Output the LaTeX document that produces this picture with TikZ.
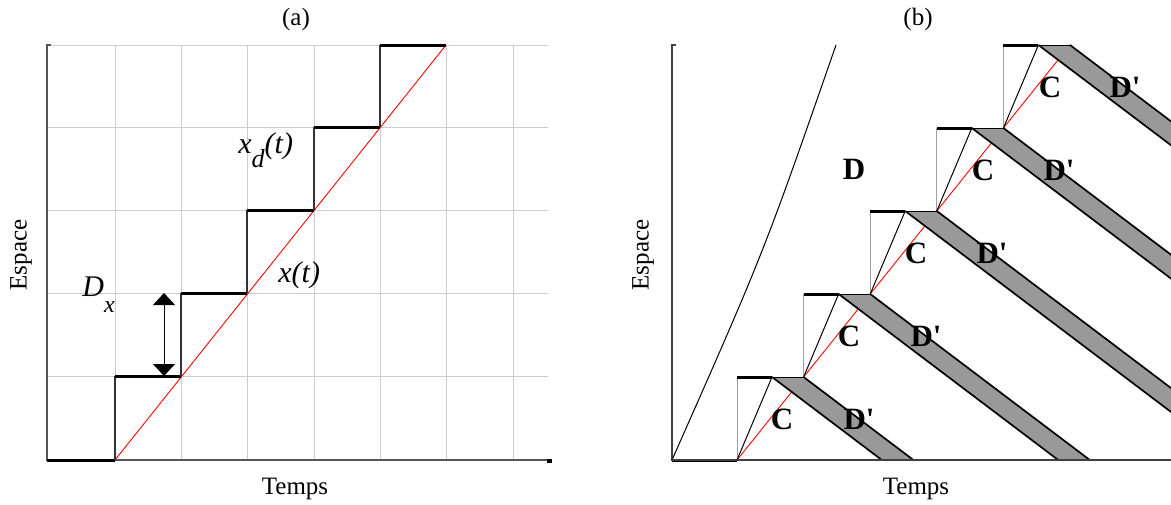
\documentclass[tikz,border=0pt]{standalone}
\usepackage{fontspec}
\setmainfont{Liberation Serif}
\usetikzlibrary{arrows.meta}
\definecolor{bandgray}{RGB}{153,153,153}
\definecolor{gridgray}{RGB}{205,205,205}
\definecolor{axisgray}{RGB}{85,85,85}
\definecolor{risergray}{RGB}{160,160,160}
\begin{document}
\begin{tikzpicture}[x=0.5pt,y=-0.5pt,
  gridline/.style={gridgray,line width=0.5pt},
  axisline/.style={axisgray,line width=0.8pt},
  axisb/.style={black!75,line width=0.6pt},
  tread/.style={black,line width=1.5pt},
  risera/.style={black!80,line width=0.65pt},
  riserb/.style={risergray,line width=0.5pt},
  diagline/.style={black,line width=0.5pt},
  redline/.style={red,line width=0.45pt},
  bandfill/.style={fill=bandgray},
  bandedge/.style={black,line width=0.85pt},
  dxarrow/.style={black,line width=0.5pt,{Triangle[width=11pt,length=6pt]}-{Triangle[width=11pt,length=6pt]}},
  txt/.style={font=\fontsize{12.5}{13}\selectfont,inner sep=0pt},
  labit/.style={font=\fontsize{15}{15}\selectfont\itshape,inner sep=0pt},
  labbf/.style={font=\fontsize{15.5}{15.5}\selectfont\bfseries,inner sep=0pt}]
\useasboundingbox (0,0) rectangle (1171,504);

% ---------------- panel (a) ----------------
\foreach \x in {115,181,247,314,380,446,513} \draw[gridline] (\x,45) -- (\x,460);
\foreach \y in {45,127,210,293,376} \draw[gridline] (47,\y) -- (548,\y);
\draw[axisline] (51,45) -- (47,45) -- (47,460) -- (548,460);
\fill[black] (547,459.3) rectangle (551.5,462.5);

\draw[redline] (115,460) -- (446,45);
\draw[tread] (47,460) -- (115,460);
\foreach \xl/\xr/\yb/\yt in {115/181/460/376,181/247/376/293,247/314/293/210,314/380/210/127,380/446/127/45}{
  \draw[risera] (\xl,\yb) -- (\xl,\yt);
  \draw[tread] (\xl,\yt) -- (\xr,\yt);
}
\coordinate (dxtop) at (164,293);
\coordinate (dxbot) at (164,376);
\draw[dxarrow] (dxtop) -- (dxbot);

\node[labit,anchor=base west] (dx) at (82,296) {D\raisebox{-8pt}{\fontsize{12}{12}\selectfont x}};
\node[labit,anchor=base west] (xd) at (238,153) {x\raisebox{-7pt}{\fontsize{13}{13}\selectfont d}(t)};
\node[labit,anchor=base west] (xt) at (278,282) {x(t)};

\node[txt] (ta) at (296,19) {(a)};
\node[txt] (tempsa) at (295,489) {Temps};
\node[txt,rotate=90] (espa) at (21,255) {Espace};

% ---------------- panel (b) ----------------
\draw[axisb] (676,45) -- (672,45) -- (672,460) -- (1171,460);
\draw[tread] (672,460) -- (737,460);
\draw[diagline] (672,460) .. controls (764,252) .. (836,45);
\draw[redline] (737,460) -- (1070,45);

\begin{scope}
\clip (672,0) rectangle (1171,461);
\foreach \i in {0,...,4}{
  \pgfmathsetmacro\xL{737+66.6*\i}
  \pgfmathsetmacro\yT{377-83*\i}
  \pgfmathsetmacro\ax{\xL+35}
  \pgfmathsetmacro\bx{\xL+66.6}
  \pgfmathsetmacro\dd{(460-\yT)/0.756}
  \fill[bandfill] (\ax,\yT) -- (\bx,\yT) -- (\bx+\dd,460) -- (\ax+\dd,460) -- cycle;
  \draw[bandedge] (\ax,\yT) -- (\ax+\dd,460);
  \draw[bandedge] (\bx,\yT) -- (\bx+\dd,460);
  \draw[black,line width=0.4pt] (\ax,\yT) -- (\bx,\yT);
}
\end{scope}
\draw[axisb] (672,460) -- (1171,460);

\foreach \i in {0,...,4}{
  \pgfmathsetmacro\xL{737+66.6*\i}
  \pgfmathsetmacro\yT{377-83*\i}
  \pgfmathsetmacro\yB{\yT+83}
  \pgfmathsetmacro\ax{\xL+35}
  \draw[riserb] (\xL,\yB) -- (\xL,\yT);
  \draw[diagline] (\xL,\yB) -- (\ax,\yT);
  \draw[tread] (\xL,\yT) -- (\ax,\yT);
}

\node[labbf] (c1) at (782,419) {C};
\node[labbf] (c2) at (849,336) {C};
\node[labbf] (c3) at (916,253) {C};
\node[labbf] (c4) at (983,170) {C};
\node[labbf] (c5) at (1050,87) {C};
\node[labbf] (d1) at (859,419) {D\textquotesingle};
\node[labbf] (d2) at (926,336) {D\textquotesingle};
\node[labbf] (d3) at (992,253) {D\textquotesingle};
\node[labbf] (d4) at (1059,170) {D\textquotesingle};
\node[labbf] (d5) at (1125,87) {D\textquotesingle};
\node[labbf] (dd) at (854,169) {D};

\node[txt] (tb) at (918,19) {(b)};
\node[txt] (tempsb) at (916,489) {Temps};
\node[txt,rotate=90] (espb) at (643,255) {Espace};
\end{tikzpicture}
\end{document}
